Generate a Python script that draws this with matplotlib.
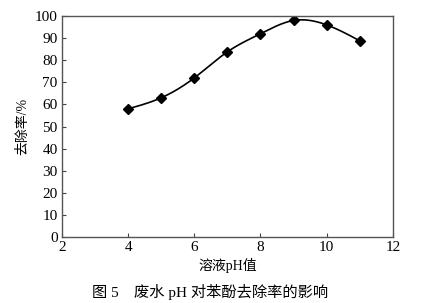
import numpy as np
import matplotlib
matplotlib.use("Agg")
import matplotlib.pyplot as plt

plt.rcParams['font.family'] = ['Liberation Serif', 'Noto Sans CJK SC']

ph = [4, 5, 6, 7, 8, 9, 10, 11]
removal = [58.0, 63.0, 72.0, 83.8, 92.0, 98.0, 96.0, 88.8]

x_ticks = [2, 4, 6, 8, 10, 12]
y_ticks = list(range(0, 101, 10))


def natural_spline(x, y, n=200):
    x = np.asarray(x, float)
    y = np.asarray(y, float)
    k = len(x)
    h = np.diff(x)
    A = np.zeros((k, k))
    b = np.zeros(k)
    A[0, 0] = A[-1, -1] = 1
    for i in range(1, k - 1):
        A[i, i - 1] = h[i - 1]
        A[i, i] = 2 * (h[i - 1] + h[i])
        A[i, i + 1] = h[i]
        b[i] = 3 * ((y[i + 1] - y[i]) / h[i] - (y[i] - y[i - 1]) / h[i - 1])
    c = np.linalg.solve(A, b)
    xs = np.linspace(x[0], x[-1], n)
    ys = np.empty_like(xs)
    for j, xv in enumerate(xs):
        i = min(np.searchsorted(x, xv, side='right') - 1, k - 2)
        d = xv - x[i]
        bi = (y[i + 1] - y[i]) / h[i] - h[i] * (2 * c[i] + c[i + 1]) / 3
        di = (c[i + 1] - c[i]) / (3 * h[i])
        ys[j] = y[i] + bi * d + c[i] * d ** 2 + di * d ** 3
    return xs, ys


fig = plt.figure(figsize=(4.36, 3.03), dpi=100)
ax = fig.add_axes([0.142, 0.218, 0.759, 0.729])

xs, ys = natural_spline(ph, removal)
ax.plot(xs, ys, color='black', lw=1.2)
ax.plot(ph, removal, linestyle='none', marker='D', color='black', markersize=5.5)

ax.set_xlim(2, 12)
ax.set_ylim(0, 100)
ax.set_xticks(x_ticks)
ax.set_yticks(y_ticks)
ax.tick_params(direction='in', labelsize=11, length=3, color='#444444', pad=3)
for s in ax.spines.values():
    s.set_color('#555555')
    s.set_linewidth(1.0)

ax.set_xlabel('溶液pH值', fontsize=10, labelpad=3)
ax.set_ylabel('去除率/%', fontsize=10, labelpad=4)

fig.text(0.482, 0.035, '图 5　废水 pH 对苯酚去除率的影响', ha='center', va='center', fontsize=11)

fig.savefig('out.png', dpi=100)
